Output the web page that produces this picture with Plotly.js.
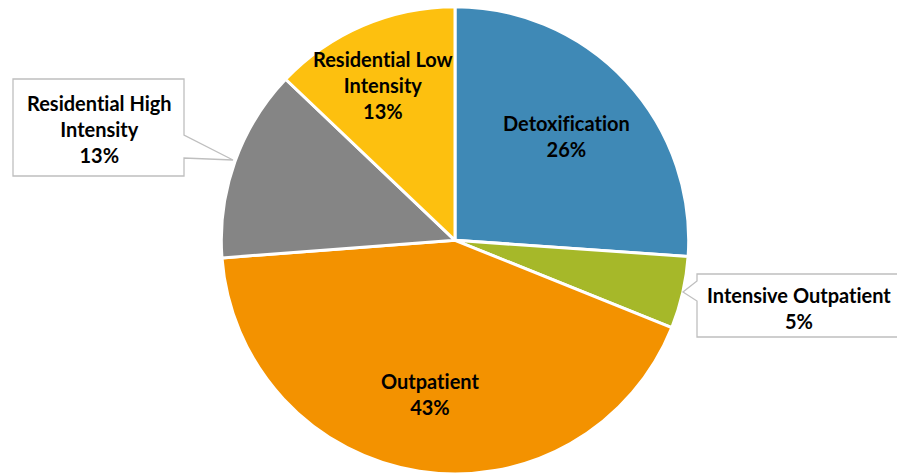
<!DOCTYPE html>
<html>
<head>
<meta charset="utf-8">
<script src="https://cdn.plot.ly/plotly-3.0.1.min.js"></script>
<style>html,body{margin:0;padding:0;background:#fff;}#chart{width:897px;height:474px;}
text{font-variant-ligatures:none;font-feature-settings:"liga" 0, "dlig" 0;}</style>
</head>
<body>
<div id="chart"></div>
<script>
// Data
var categories = ["Detoxification", "Intensive Outpatient", "Outpatient", "Residential High Intensity", "Residential Low Intensity"];
var displayLabels = ["Detoxification", "Intensive Outpatient", "Outpatient", "Residential High<br>Intensity", "Residential Low<br>Intensity"];
var values = [26.1, 5.0, 42.7, 13.3, 12.9];
var colors = ["#3F89B6", "#A6B829", "#F39200", "#858585", "#FDC00F"];

var W = 897, H = 474;
function px(x) { return x / W; }
function py(y) { return 1 - y / H; }

var total = values.reduce(function (a, b) { return a + b; }, 0);
function pctText(i) { return Math.round(values[i] / total * 100) + "%"; }

var font = { family: "Lato, 'Open Sans', sans-serif", size: 20, color: "#000000", weight: 700 };

// label positions (pixel centres) for each category
var labelPos = [[566, 136], [799, 308], [430, 394], [99, 129], [383, 85]];

var annotations = categories.map(function (c, i) {
  return {
    xref: "paper", yref: "paper",
    x: px(labelPos[i][0]), y: py(labelPos[i][1]),
    xanchor: "center", yanchor: "middle",
    text: displayLabels[i] + "<br>" + pctText(i),
    showarrow: false,
    font: font
  };
});

function pathFrom(pts) {
  return "M" + pts.map(function (p) { return px(p[0]) + "," + py(p[1]); }).join(" L") + " Z";
}

var shapes = [
  { type: "path", xref: "paper", yref: "paper",
    path: pathFrom([[13, 79], [184, 79], [184, 135], [233, 160], [184, 158], [184, 176], [13, 176]]),
    fillcolor: "#FFFFFF", line: { color: "#BFBFBF", width: 1.3 }, layer: "above" },
  { type: "path", xref: "paper", yref: "paper",
    path: pathFrom([[697, 274], [905, 274], [905, 337], [697, 337], [697, 301], [683, 292], [697, 281]]),
    fillcolor: "#FFFFFF", line: { color: "#BFBFBF", width: 1.3 }, layer: "above" }
];

var trace = {
  type: "pie",
  labels: categories,
  values: values,
  sort: false,
  direction: "clockwise",
  rotation: 0,
  marker: { colors: colors, line: { color: "#FFFFFF", width: 3 } },
  textinfo: "none",
  hoverinfo: "label+percent",
  domain: { x: [px(455 - 234), px(455 + 234)], y: [0, 0.986] },
  showlegend: false
};

var layout = {
  width: W, height: H,
  margin: { l: 0, r: 0, t: 0, b: 0 },
  paper_bgcolor: "#FFFFFF",
  showlegend: false,
  shapes: shapes,
  annotations: annotations
};

Plotly.newPlot("chart", [trace], layout, { staticPlot: true, displayModeBar: false });
</script>
</body>
</html>
